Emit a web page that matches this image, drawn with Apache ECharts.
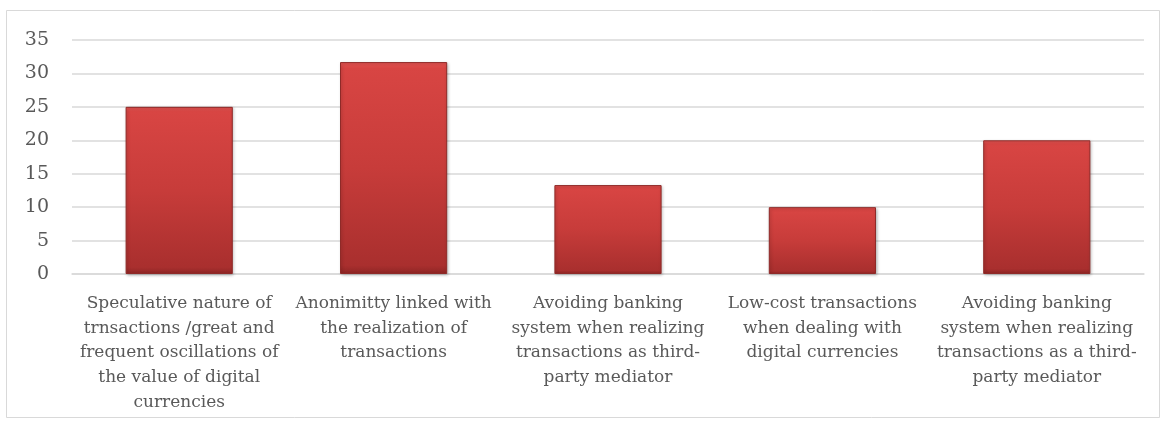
<!DOCTYPE html>
<html>
<head>
<meta charset="utf-8">
<script src="https://cdn.jsdelivr.net/npm/echarts@6/dist/echarts.min.js"></script>
<style>
  html, body { margin: 0; padding: 0; background: #ffffff; }
  #chart { width: 1166px; height: 424px; }
</style>
</head>
<body>
<div id="chart"></div>
<script>
// Reasons for using digital currencies (share, %)
const categories = [
  'Speculative nature of\ntrnsactions /great and\nfrequent oscillations of\nthe value of digital\ncurrencies',
  'Anonimitty linked with\nthe realization of\ntransactions',
  'Avoiding banking\nsystem when realizing\ntransactions as third-\nparty mediator',
  'Low-cost transactions\nwhen dealing with\ndigital currencies',
  'Avoiding banking\nsystem when realizing\ntransactions as a third-\nparty mediator'
];
const values = [25, 31.7, 13.3, 10, 20];
const yTicks = { min: 0, max: 35, interval: 5 };

const textColor = '#595959';
const gridColor = '#d9d9d9';
const fontFamily = '"DejaVu Serif", "Liberation Serif", serif';

const chart = echarts.init(document.getElementById('chart'), null, { renderer: 'canvas' });

chart.setOption({
  animation: false,
  backgroundColor: '#ffffff',
  graphic: [{
    type: 'rect',
    shape: { x: 6.5, y: 10.5, width: 1153, height: 407 },
    style: { fill: 'none', stroke: gridColor, lineWidth: 1 },
    silent: true,
    z: -1
  }],
  grid: { left: 72, right: 22, top: 40, bottom: 150, containLabel: false },
  xAxis: {
    type: 'category',
    data: categories,
    axisTick: { show: false },
    axisLine: { show: true, lineStyle: { color: gridColor, width: 1.5 } },
    axisLabel: {
      interval: 0,
      color: textColor,
      fontFamily: fontFamily,
      fontSize: 17,
      lineHeight: 24.8,
      margin: 17,
      align: 'center'
    }
  },
  yAxis: {
    type: 'value',
    min: yTicks.min,
    max: yTicks.max,
    interval: yTicks.interval,
    axisLine: { show: false },
    axisTick: { show: false },
    splitLine: { lineStyle: { color: gridColor, width: 1.5 } },
    axisLabel: {
      color: textColor,
      fontFamily: fontFamily,
      fontSize: 19,
      margin: 23
    }
  },
  series: [{
    type: 'bar',
    data: values,
    barWidth: '50%',
    itemStyle: {
      color: new echarts.graphic.LinearGradient(0, 0, 0, 1, [
        { offset: 0, color: '#e65553' },
        { offset: 0.03, color: '#d84543' },
        { offset: 0.5, color: '#c73c3a' },
        { offset: 0.96, color: '#a92f2e' },
        { offset: 1, color: '#8e2524' }
      ]),
      borderColor: '#8f2a28',
      borderWidth: 1,
      shadowColor: 'rgba(0,0,0,0.25)',
      shadowBlur: 3,
      shadowOffsetX: 1,
      shadowOffsetY: 1
    }
  }]
});
</script>
</body>
</html>
